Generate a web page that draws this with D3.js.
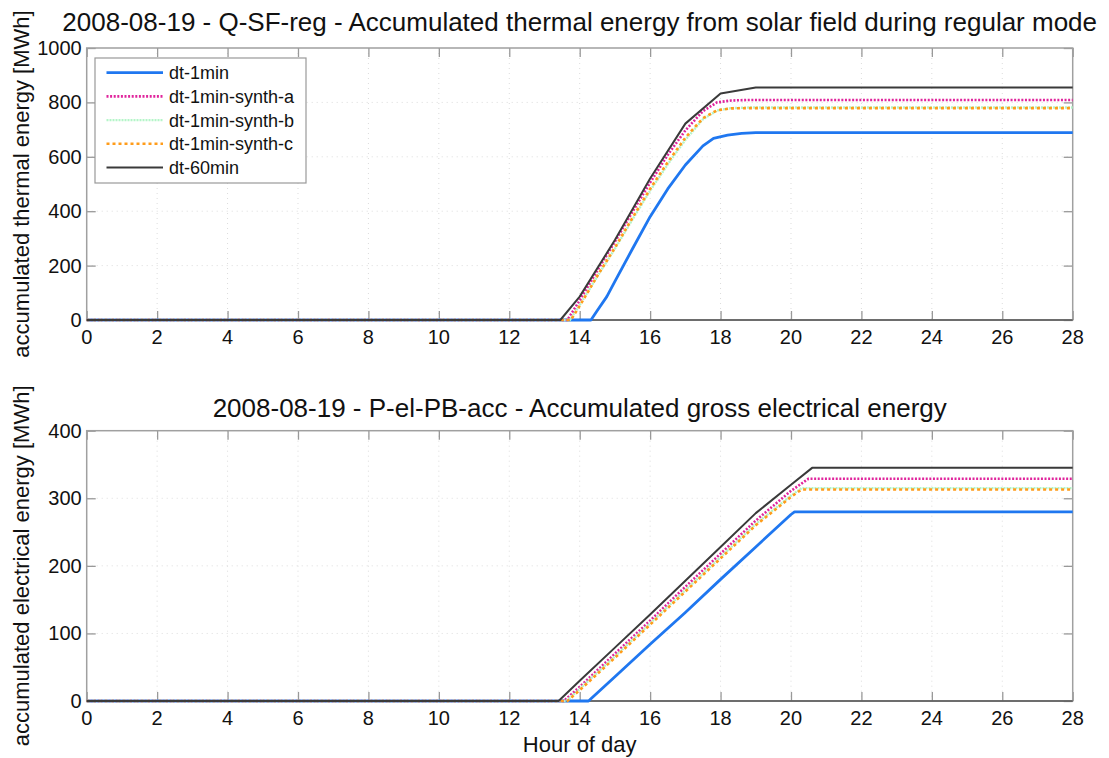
<!DOCTYPE html>
<html>
<head>
<meta charset="utf-8">
<script src="https://cdn.jsdelivr.net/npm/d3@7"></script>
<style>
  body { margin: 0; background: #fff; }
  text { font-family: 'Liberation Sans', Arial, sans-serif; fill: #111; }
</style>
</head>
<body>
<div id="chart"></div>
<script>
// hour ticks and series names
var hourTicks = [0, 2, 4, 6, 8, 10, 12, 14, 16, 18, 20, 22, 24, 26, 28];
var thermalTicks = [0, 200, 400, 600, 800, 1000];
var electricTicks = [0, 100, 200, 300, 400];
var seriesNames = ['dt-1min', 'dt-1min-synth-a', 'dt-1min-synth-b', 'dt-1min-synth-c', 'dt-60min'];

// Q-SF-reg [hour, MWh]
var qsf1min = [[0, 0], [14.32, 0], [14.5, 35], [14.77, 86], [15, 142], [15.5, 262], [16, 380], [16.5, 482], [17, 570], [17.5, 640], [17.8, 668], [18.2, 680], [18.6, 686], [19, 689], [28, 689]];
var qsfSynthA = [[0, 0], [13.65, 0], [14, 72], [14.5, 182], [15, 288], [15.5, 398], [16, 505], [16.5, 607], [17, 697], [17.5, 768], [17.9, 800], [18.3, 807], [18.8, 809], [28, 809]];
var qsfSynthB = [[0, 0], [13.72, 0], [14, 55], [14.5, 160], [15, 262], [15.5, 370], [16, 475], [16.5, 572], [17, 662], [17.5, 738], [17.9, 770], [18.3, 779], [18.8, 781], [28, 781]];
var qsfSynthC = [[0, 0], [13.75, 0], [14, 52], [14.5, 162], [15, 266], [15.5, 376], [16, 482], [16.5, 580], [17, 670], [17.5, 742], [17.9, 771], [18.3, 778], [18.8, 779], [28, 779]];
var qsf60min = [[0, 0], [13.45, 0], [14, 86], [15, 294], [16, 520], [17, 722], [18, 833], [19, 855], [28, 855]];

// P-el-PB-acc [hour, MWh]
var pel1min = [[0, 0], [14.25, 0], [15, 36], [16, 84], [17, 131], [18, 180], [19, 228], [20, 276], [20.1, 280], [28, 280]];
var pelSynthA = [[0, 0], [13.55, 0], [14, 21], [15, 70], [16, 119], [17, 169], [18, 218], [19, 267], [20, 311], [20.5, 329], [28, 329]];
var pelSynthB = [[0, 0], [13.62, 0], [14, 18], [15, 66], [16, 115], [17, 164], [18, 213], [19, 262], [20, 304], [20.3, 315], [28, 315]];
var pelSynthC = [[0, 0], [13.65, 0], [14, 16], [15, 64], [16, 113], [17, 162], [18, 211], [19, 260], [20, 302], [20.3, 313], [28, 313]];
var pel60min = [[0, 0], [13.4, 0], [14, 30], [15, 79], [16, 128], [17, 178], [18, 228], [19, 278], [20, 320], [20.6, 345], [28, 345]];

var styles = [
  { color: '#1f77f0', width: 2.8, dash: null },
  { color: '#e0249c', width: 2.6, dash: '2,1.6' },
  { color: '#b4f5c8', width: 2.4, dash: '2,1' },
  { color: '#ff9c1a', width: 2.6, dash: '3,3' },
  { color: '#3a3a3a', width: 2, dash: null }
];

var width = 1109, height = 758;
var left = 86.7, right = 1072.7;

var svg = d3.select('#chart').append('svg')
  .attr('width', width)
  .attr('height', height);
svg.append('rect').attr('width', width).attr('height', height).attr('fill', '#fff');

var x = d3.scaleLinear().domain([0, 28]).range([left, right]);

function panel(top, bottom, yMax, yTicks, series, title, titleY, yLabel, legend) {
  var y = d3.scaleLinear().domain([0, yMax]).range([bottom, top]);
  var g = svg.append('g');

  // dotted grid
  g.selectAll('.gx').data(hourTicks.slice(1, -1)).enter().append('line')
    .attr('x1', function(d) { return x(d); }).attr('x2', function(d) { return x(d); })
    .attr('y1', top).attr('y2', bottom)
    .attr('stroke', '#dcdcdc').attr('stroke-width', 1).attr('stroke-dasharray', '1,4');
  g.selectAll('.gy').data(yTicks.slice(1, -1)).enter().append('line')
    .attr('x1', left).attr('x2', right)
    .attr('y1', function(d) { return y(d); }).attr('y2', function(d) { return y(d); })
    .attr('stroke', '#dcdcdc').attr('stroke-width', 1).attr('stroke-dasharray', '1,4');

  // inward ticks on all four sides
  var tl = 9;
  g.append('g').attr('transform', 'translate(0,' + bottom + ')')
    .call(d3.axisTop(x).tickValues(hourTicks).tickSize(tl).tickFormat(''));
  g.append('g').attr('transform', 'translate(0,' + top + ')')
    .call(d3.axisBottom(x).tickValues(hourTicks).tickSize(tl).tickFormat(''));
  g.append('g').attr('transform', 'translate(' + left + ',0)')
    .call(d3.axisRight(y).tickValues(yTicks).tickSize(tl).tickFormat(''));
  g.append('g').attr('transform', 'translate(' + right + ',0)')
    .call(d3.axisLeft(y).tickValues(yTicks).tickSize(tl).tickFormat(''));
  g.selectAll('.domain').remove();
  g.selectAll('.tick line').attr('stroke', '#999').attr('stroke-width', 1.3);

  // tick labels
  g.selectAll('.xl').data(hourTicks).enter().append('text')
    .attr('x', function(d) { return x(d); }).attr('y', bottom + 24)
    .attr('text-anchor', 'middle').style('font-size', '20px')
    .text(function(d) { return d; });
  g.selectAll('.yl').data(yTicks).enter().append('text')
    .attr('x', left - 5).attr('y', function(d) { return y(d) + 7; })
    .attr('text-anchor', 'end').style('font-size', '20px')
    .text(function(d) { return d; });

  // frame
  g.append('rect').attr('x', left).attr('y', top)
    .attr('width', right - left).attr('height', bottom - top)
    .attr('fill', 'none').attr('stroke', '#a0a0a0').attr('stroke-width', 1.5);
  g.append('line').attr('x1', left).attr('x2', right).attr('y1', bottom).attr('y2', bottom)
    .attr('stroke', '#555').attr('stroke-width', 1.5);

  var line = d3.line()
    .x(function(d) { return x(d[0]); })
    .y(function(d) { return y(d[1]); });

  series.forEach(function(s, i) {
    g.append('path')
      .attr('d', line(s))
      .attr('fill', 'none')
      .attr('stroke', styles[i].color)
      .attr('stroke-width', styles[i].width)
      .attr('stroke-dasharray', styles[i].dash)
      .attr('stroke-linejoin', 'round');
  });

  svg.append('text').attr('x', (left + right) / 2).attr('y', titleY)
    .attr('text-anchor', 'middle').style('font-size', '26px').text(title);

  svg.append('text')
    .attr('transform', 'translate(29,' + (top + bottom) / 2 + ') rotate(-90)')
    .attr('text-anchor', 'middle').style('font-size', '22px').text(yLabel);

  if (legend) {
    var lg = svg.append('g');
    lg.append('rect').attr('x', 95).attr('y', 58).attr('width', 211).attr('height', 125)
      .attr('fill', '#fff').attr('stroke', '#999').attr('stroke-width', 1.2);
    var item = lg.selectAll('.item').data(seriesNames).enter().append('g')
      .attr('transform', function(d, i) { return 'translate(0,' + (72.7 + i * 23.7) + ')'; });
    item.append('line').attr('x1', 106.5).attr('x2', 163).attr('y1', 0).attr('y2', 0)
      .attr('stroke', function(d, i) { return styles[i].color; })
      .attr('stroke-width', function(d, i) { return styles[i].width; })
      .attr('stroke-dasharray', function(d, i) { return styles[i].dash; });
    item.append('text').attr('x', 169).attr('y', 6.5).style('font-size', '18px')
      .text(function(d) { return d; });
  }
}

panel(48, 320, 1000, thermalTicks, [qsf1min, qsfSynthA, qsfSynthB, qsfSynthC, qsf60min],
  '2008-08-19 - Q-SF-reg - Accumulated thermal energy from solar field during regular mode', 31,
  'accumulated thermal energy [MWh]', true);
panel(430.7, 701, 400, electricTicks, [pel1min, pelSynthA, pelSynthB, pelSynthC, pel60min],
  '2008-08-19 - P-el-PB-acc - Accumulated gross electrical energy', 417,
  'accumulated electrical energy [MWh]', false);

svg.append('text').attr('x', (left + right) / 2).attr('y', 752)
  .attr('text-anchor', 'middle').style('font-size', '22px').text('Hour of day');
</script>
</body>
</html>
